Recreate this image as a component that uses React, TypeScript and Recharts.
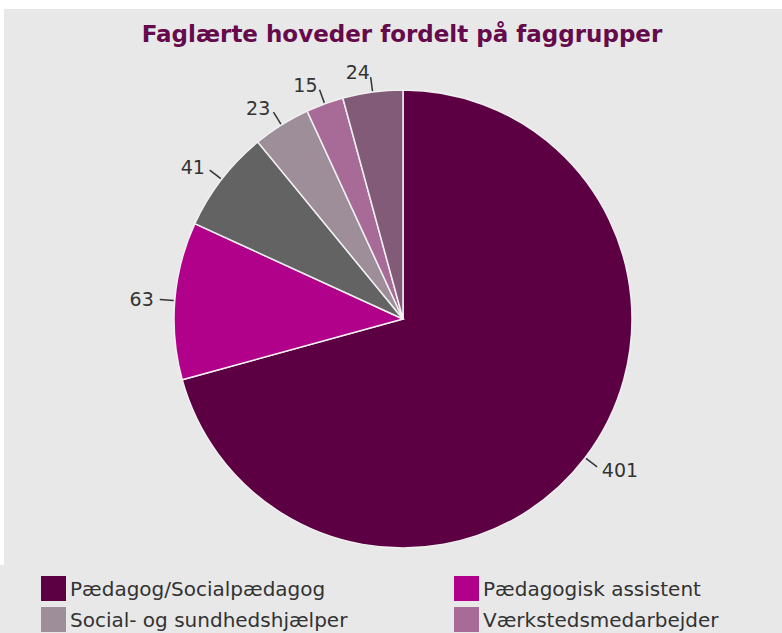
import React from "react";
import { PieChart, Pie, Cell } from "recharts";

const categories = [
  "Pædagog/Socialpædagog",
  "Pædagogisk assistent",
  "Andre faglærte",
  "Social- og sundhedshjælper",
  "Værkstedsmedarbejder",
  "Øvrige",
];
const values = [401, 63, 41, 23, 15, 24];
const colors = ["#5c0043", "#b1008a", "#636363", "#9e8e99", "#a86b98", "#825b78"];
const legendOrder = [0, 1, 3, 4];
const title = "Faglærte hoveder fordelt på faggrupper";

const data = categories.map((name, i) => ({ name, value: values[i] }));

const RADIAN = Math.PI / 180;
const FONT = "'DejaVu Sans', Verdana, sans-serif";

const renderLabel = (props: any) => {
  const { cx, cy, midAngle, outerRadius, value } = props;
  const cos = Math.cos(-midAngle * RADIAN);
  const sin = Math.sin(-midAngle * RADIAN);
  const x1 = cx + (outerRadius + 1) * cos;
  const y1 = cy + (outerRadius + 1) * sin;
  const x2 = cx + (outerRadius + 15) * cos;
  const y2 = cy + (outerRadius + 15) * sin;
  const tx = cx + (outerRadius + 21) * cos;
  const ty = cy + (outerRadius + 20) * sin;
  return (
    <g>
      <line x1={x1} y1={y1} x2={x2} y2={y2} stroke="#333" strokeWidth={1.5} />
      <text
        x={tx}
        y={ty}
        textAnchor={cos >= 0 ? "start" : "end"}
        dominantBaseline="central"
        fill="#333"
        fontSize={19}
        fontFamily={FONT}
      >
        {value}
      </text>
    </g>
  );
};

export default function App() {
  return (
    <div
      style={{
        position: "fixed",
        left: 0,
        top: 0,
        width: 782,
        height: 633,
        background: "#ffffff",
        overflow: "hidden",
      }}
    >
      <div
        style={{
          position: "absolute",
          left: 4,
          top: 9,
          width: 778,
          height: 556,
          background: "#e8e8e8",
        }}
      />
      <div
        style={{
          position: "absolute",
          left: 0,
          top: 565,
          width: 782,
          height: 68,
          background: "#e8e8e8",
        }}
      />
      <svg style={{ position: "absolute", left: 0, top: 0 }} width={782} height={60}>
        <text
          x={402}
          y={42}
          textAnchor="middle"
          fill="#650a4b"
          fontSize={23}
          fontWeight="bold"
          fontFamily={FONT}
        >
          {title}
        </text>
      </svg>
      <div style={{ position: "absolute", left: 0, top: 0 }}>
        <PieChart
          width={782}
          height={565}
          margin={{ top: 0, right: 0, bottom: 0, left: 0 }}
        >
          <Pie
            data={data}
            dataKey="value"
            nameKey="name"
            cx={403}
            cy={319}
            outerRadius={229}
            startAngle={90}
            endAngle={-270}
            stroke="#f0f0f0"
            strokeWidth={1.5}
            label={renderLabel}
            labelLine={false}
            isAnimationActive={false}
          >
            {data.map((d, i) => (
              <Cell key={d.name} fill={colors[i]} />
            ))}
          </Pie>
        </PieChart>
      </div>
      {legendOrder.map((idx, k) => {
        const col = k % 2;
        const row = Math.floor(k / 2);
        return (
          <div
            key={idx}
            style={{
              position: "absolute",
              left: col === 0 ? 41 : 454,
              top: 576 + row * 31,
              height: 25,
              display: "flex",
              alignItems: "center",
              fontFamily: FONT,
              fontSize: 20,
              color: "#333",
              whiteSpace: "nowrap",
            }}
          >
            <div style={{ width: 25, height: 25, background: colors[idx], marginRight: 4, flexShrink: 0 }} />
            <span>{categories[idx]}</span>
          </div>
        );
      })}
    </div>
  );
}
